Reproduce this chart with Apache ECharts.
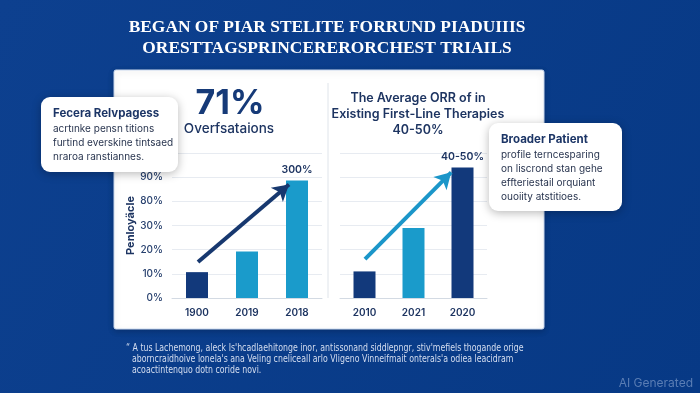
<!DOCTYPE html>
<html><head><meta charset="utf-8">
<script src="https://cdn.jsdelivr.net/npm/echarts@6/dist/echarts.min.js"></script>
<style>html,body{margin:0;padding:0;background:#0b3d8b;}#c{width:700px;height:393px;}</style>
</head><body><div id="c"></div>
<script>
// ---- data ----
const titleLines = ['BEGAN OF PIAR STELITE FORRUND PIADUIIIS', 'ORESTTAGSPRINCERERORCHEST TRIAILS'];
const leftCategories = ['1900', '2019', '2018'];
const leftValues = [1.07, 1.92, 4.86];
const leftBarLabels = ['', '', '300%'];
const leftTickLabels = ['0%', '10%', '20%', '30%', '80%', '90%'];
const leftAxisName = 'Penloyäcle';
const leftHeadline = '71%';
const leftSubhead = 'Overfsataions';
const leftArrow = [[0.02, 1.49], [1.84, 4.7]];
const rightCategories = ['2010', '2021', '2020'];
const rightValues = [1.1, 2.9, 5.4];
const rightBarLabels = ['', '', '40-50%'];
const rightTitleLines = ['The Average ORR of in', 'Existing First-Line Therapies', '40-50%'];
const rightArrow = [[0.01, 1.61], [1.77, 5.2]];
const leftNoteTitle = 'Fecera Relvpagess';
const leftNoteLines = ['acrtınke pensn titions', 'furtind everskine tintsaed', 'nraroa ranstiannes.'];
const rightNoteTitle = 'Broader Patient';
const rightNoteLines = ['profile terncesparing', 'on liscrond stan gehe', 'effteriestail orquiant', 'ouoiity atstitioes.'];
const footnoteLines = [
  '\u201C A tus Lachemong, aleck Is\'hcadlaehitonge inor, antissonand siddlepngr, stiv\'mefiels thogande orige',
  'aborncraidhoive lonela\'s ana Veling cneliceall arlo Vligeno Vinneifmait onterals\'a odiea leacidram',
  'acoactintenquo dotn coride novi.'
];
const watermark = 'AI Generated';

// ---- style ----
const NAVY = '#12397b', TEAL = '#1a9bcb', INK = '#1d3461';
const leftColors = [NAVY, TEAL, TEAL];
const rightColors = [NAVY, TEAL, NAVY];
const SANS = 'Inter, Roboto, "Noto Sans", sans-serif';

const chart = echarts.init(document.getElementById('c'));

function barSeries(values, labels, colors, xi, yi) {
  return {
    type: 'bar', xAxisIndex: xi, yAxisIndex: yi, barWidth: 22, z: 3,
    data: values.map((v, i) => ({
      value: v, itemStyle: { color: colors[i] },
      label: { show: !!labels[i], formatter: labels[i] }
    })),
    label: { position: 'top', distance: 5, color: INK, fontSize: 10.5, fontWeight: 600, fontFamily: SANS }
  };
}
function arrowSeries(pts, color, xi, yi) {
  return {
    type: 'line', xAxisIndex: xi, yAxisIndex: yi, data: pts, showSymbol: false, silent: true,
    lineStyle: { opacity: 0 }, z: 4,
    markLine: {
      silent: true, symbol: ['none', 'arrow'], symbolSize: [14, 16], animation: false,
      label: { show: false },
      lineStyle: { color: color, width: 4, type: 'solid' },
      data: [[{ coord: pts[0] }, { coord: pts[1] }]]
    }
  };
}

const graphics = [
  { type: 'rect', z: -10, shape: { x: 114, y: 70, width: 430, height: 259, r: 2 },
    style: { fill: '#ffffff', stroke: '#c9d8ee', lineWidth: 1, shadowBlur: 6, shadowColor: 'rgba(0,0,0,0.2)', shadowOffsetY: 2 } },
  { type: 'line', z: -9, shape: { x1: 328, y1: 83, x2: 328, y2: 298 }, style: { stroke: '#dfe4ea', lineWidth: 1 } },
  { type: 'text', x: 230, y: 104, style: { text: leftHeadline, fill: '#163a78', font: 'bold 34px ' + SANS, textAlign: 'center', textVerticalAlign: 'middle' } },
  { type: 'text', x: 229, y: 129, style: { text: leftSubhead, fill: INK, font: '500 13.5px ' + SANS, textAlign: 'center', textVerticalAlign: 'middle' } }
];
titleLines.forEach((t, i) => graphics.push({ type: 'text', x: 327, y: 28 + i * 21,
  style: { text: t, fill: '#ffffff', font: 'bold 17.4px "Liberation Serif", serif', textAlign: 'center', textVerticalAlign: 'middle' } }));
rightTitleLines.forEach((t, i) => graphics.push({ type: 'text', x: 418, y: 98 + i * 16,
  style: { text: t, fill: INK, font: '600 12.5px ' + SANS, textAlign: 'center', textVerticalAlign: 'middle' } }));

function callout(x, y, w, h, title, lines, ty) {
  graphics.push({ type: 'rect', z: 100, shape: { x, y, width: w, height: h, r: 9 },
    style: { fill: '#ffffff', shadowBlur: 10, shadowColor: 'rgba(0,0,0,0.28)', shadowOffsetY: 2 } });
  graphics.push({ type: 'text', z: 101, x: x + 12, y: ty,
    style: { text: title, fill: '#1c3566', font: 'bold 11.5px ' + SANS, textVerticalAlign: 'middle' } });
  lines.forEach((t, i) => graphics.push({ type: 'text', z: 101, x: x + 12, y: ty + 15 + i * 14,
    style: { text: t, fill: '#2a3650', font: '10px ' + SANS, textVerticalAlign: 'middle' } }));
}
callout(41, 97, 137, 75, leftNoteTitle, leftNoteLines, 114);
callout(489, 123, 133, 88, rightNoteTitle, rightNoteLines, 140);

footnoteLines.forEach((t, i) => graphics.push({ type: 'text', x: i === 0 ? 126 : 132, y: 348 + i * 11, scaleX: 0.87,
  style: { text: t, fill: '#d5def0', font: '10px "Liberation Sans Narrow", "DejaVu Sans Condensed", sans-serif', textVerticalAlign: 'middle' } }));
graphics.push({ type: 'text', x: 693, y: 383, style: { text: watermark, fill: '#5a7db4', font: '12px ' + SANS, textAlign: 'right', textVerticalAlign: 'middle' } });

const catAxis = (gi, data) => ({
  gridIndex: gi, type: 'category', data: data,
  axisLine: { lineStyle: { color: '#d3dae3' } }, axisTick: { show: false },
  axisLabel: { color: INK, fontSize: 10, fontWeight: 600, margin: 10, fontFamily: SANS }
});
const hidX = (gi) => ({ gridIndex: gi, type: 'value', min: -0.5, max: 2.5, show: false });

chart.setOption({
  animation: false,
  backgroundColor: new echarts.graphic.LinearGradient(0, 0, 1, 1, [
    { offset: 0, color: '#0d408f' }, { offset: 1, color: '#073985' }]),
  grid: [
    { left: 172, top: 153, width: 150, height: 145 },
    { left: 340, top: 153, width: 147, height: 145 }
  ],
  xAxis: [catAxis(0, leftCategories), catAxis(1, rightCategories), hidX(0), hidX(1)],
  yAxis: [
    { gridIndex: 0, type: 'value', min: 0, max: 6, interval: 1,
      axisLine: { show: false }, axisTick: { show: false },
      splitLine: { lineStyle: { color: '#e7ebf1' } },
      axisLabel: { formatter: (v) => leftTickLabels[v] || '', color: '#27406e', fontSize: 10, fontWeight: 500, margin: 9, fontFamily: SANS },
      name: leftAxisName, nameLocation: 'middle', nameRotate: 90, nameGap: 34,
      nameTextStyle: { color: INK, fontSize: 11, fontWeight: 'bold', fontFamily: SANS } },
    { gridIndex: 1, type: 'value', min: 0, max: 6, interval: 1,
      axisLine: { show: false }, axisTick: { show: false }, axisLabel: { show: false },
      splitLine: { lineStyle: { color: '#e7ebf1' } } }
  ],
  series: [
    barSeries(leftValues, leftBarLabels, leftColors, 0, 0),
    barSeries(rightValues, rightBarLabels, rightColors, 1, 1),
    arrowSeries(leftArrow, '#17386f', 2, 0),
    arrowSeries(rightArrow, '#1b96c9', 3, 1)
  ],
  graphic: graphics
});
</script></body></html>
